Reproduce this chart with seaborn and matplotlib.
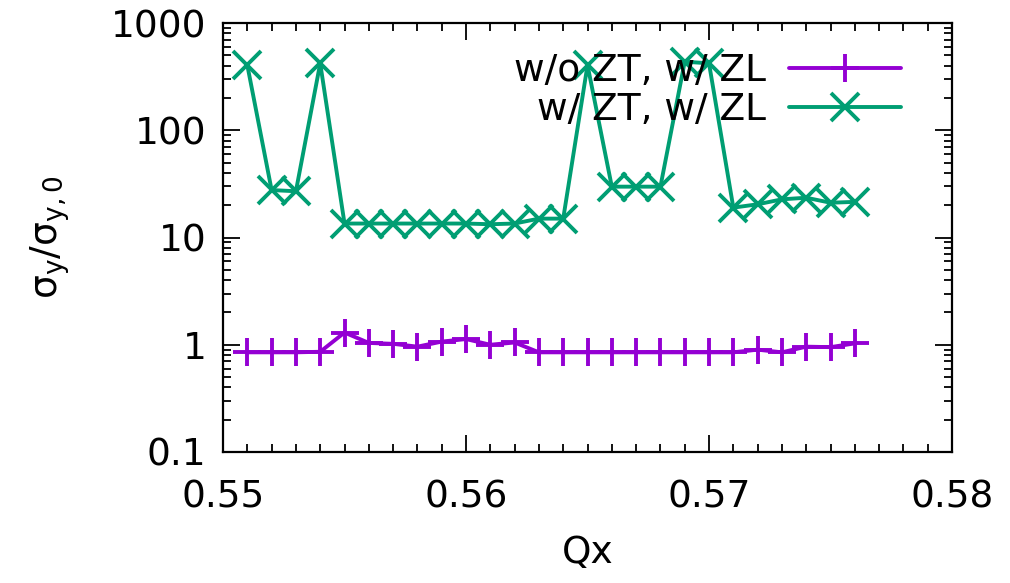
import numpy as np
import pandas as pd
import matplotlib
matplotlib.use("Agg")
import matplotlib.pyplot as plt
import seaborn as sns
from matplotlib.ticker import FixedLocator, MultipleLocator, LogLocator, NullFormatter

qx = [0.551, 0.552, 0.553, 0.554, 0.555, 0.556, 0.557, 0.558, 0.559, 0.560,
      0.561, 0.562, 0.563, 0.564, 0.565, 0.566, 0.567, 0.568, 0.569, 0.570,
      0.571, 0.572, 0.573, 0.574, 0.575, 0.576]
wo_zt = [0.85, 0.85, 0.85, 0.86, 1.30, 1.04, 1.02, 0.96, 1.07, 1.13,
         1.00, 1.05, 0.85, 0.85, 0.85, 0.85, 0.85, 0.85, 0.85, 0.85,
         0.85, 0.90, 0.85, 0.96, 0.95, 1.03]
w_zt = [405, 27.7, 27.0, 421, 13.5, 13.5, 13.5, 13.5, 13.5, 13.5,
        13.3, 13.5, 15.0, 15.0, 405, 29.8, 29.8, 29.8, 436, 421,
        19.0, 20.4, 22.7, 23.5, 21.1, 21.5]
labels = ["w/o ZT, w/ ZL", "w/ ZT, w/ ZL"]
colors = ["#9400D3", "#009E73"]
yticks = [0.1, 1, 10, 100, 1000]
ytick_labels = ["0.1", "1", "10", "100", "1000"]
xticks = [0.55, 0.56, 0.57, 0.58]
xtick_labels = ["0.55", "0.56", "0.57", "0.58"]

sns.set_theme(style="ticks")
plt.rcParams["font.family"] = ["DejaVu Sans"]
plt.rcParams["mathtext.default"] = "regular"
plt.rcParams["text.color"] = "black"
plt.rcParams["axes.labelcolor"] = "black"

fig = plt.figure(figsize=(10.1, 5.83), dpi=100)
ax = fig.add_axes([0.2208, 0.2247, 0.9426 - 0.2208, 0.9605 - 0.2247])

df1 = pd.DataFrame({"Qx": qx, "v": wo_zt})
df2 = pd.DataFrame({"Qx": qx, "v": w_zt})
sns.lineplot(data=df1, x="Qx", y="v", ax=ax, color=colors[0], marker="+",
             markersize=20, markeredgewidth=2.8, markeredgecolor=colors[0],
             linewidth=2.8, label=labels[0], sort=False, errorbar=None)
sns.lineplot(data=df2, x="Qx", y="v", ax=ax, color=colors[1], marker="x",
             markersize=20, markeredgewidth=2.8, markeredgecolor=colors[1],
             linewidth=2.8, label=labels[1], sort=False, errorbar=None)

ax.set_yscale("log")
ax.set_ylim(0.1, 1000)
ax.set_xlim(0.55, 0.58)
ax.yaxis.set_major_locator(FixedLocator(yticks))
ax.set_yticklabels(ytick_labels)
ax.yaxis.set_minor_locator(LogLocator(base=10, subs=np.arange(2, 10)))
ax.yaxis.set_minor_formatter(NullFormatter())
ax.xaxis.set_major_locator(FixedLocator(xticks))
ax.set_xticklabels(xtick_labels)
ax.xaxis.set_minor_locator(MultipleLocator(0.001))

for s in ax.spines.values():
    s.set_visible(True)
    s.set_linewidth(1.6)
    s.set_color("black")
ax.tick_params(which="both", direction="in", top=True, right=True,
               colors="black", labelcolor="black", labelsize=27, width=1.3)
ax.tick_params(which="major", length=12, pad=12)
ax.tick_params(which="minor", length=6)
ax.tick_params(axis="x", which="major", pad=20)

ax.set_xlabel("Qx", fontsize=27, labelpad=14, color="black")
ax.set_ylabel("σ$_{y}$/σ$_{y,0}$", fontsize=27, labelpad=28, color="black")

leg = ax.legend(loc="upper right", bbox_to_anchor=(0.951, 0.965), frameon=False,
                markerfirst=False, fontsize=27, handlelength=3.0,
                handletextpad=0.6, labelspacing=0.08, borderaxespad=0)
for t in leg.get_texts():
    t.set_color("black")

fig.savefig("out.png", dpi=100)
